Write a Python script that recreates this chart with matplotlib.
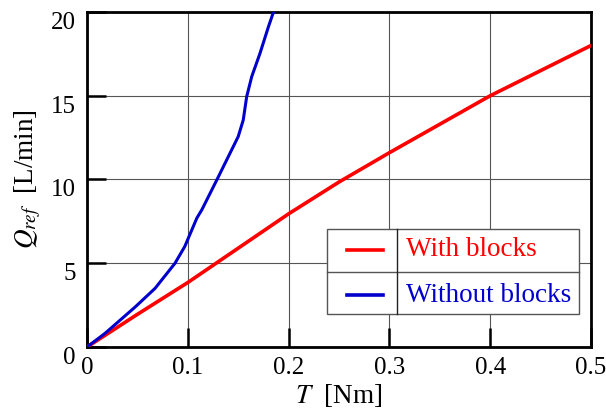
import matplotlib
matplotlib.use("Agg")
import matplotlib.pyplot as plt
from matplotlib.patches import Rectangle
from matplotlib.lines import Line2D

plt.rcParams['font.family'] = ['Liberation Serif', 'DejaVu Serif']
plt.rcParams['mathtext.fontset'] = 'stix'

# Data
t_with = [0.0, 0.05, 0.1, 0.15, 0.2, 0.25, 0.3, 0.35, 0.4, 0.45, 0.5]
q_with = [0.0, 1.95, 3.85, 5.9, 7.95, 9.85, 11.6, 13.3, 15.0, 16.5, 18.0]
t_without = [0.0, 0.018, 0.048, 0.0675, 0.0873, 0.097, 0.109, 0.114, 0.129,
             0.150, 0.155, 0.1584, 0.1634, 0.1716, 0.18, 0.185]
q_without = [0.0, 0.82, 2.4, 3.5, 5.0, 6.0, 7.7, 8.2, 10.0,
             12.56, 13.55, 14.94, 16.14, 17.53, 19.12, 20.0]
x_ticks = [0, 0.1, 0.2, 0.3, 0.4, 0.5]
x_labels = ['0', '0.1', '0.2', '0.3', '0.4', '0.5']
y_ticks = [0, 5, 10, 15, 20]
y_labels = ['0', '5', '10', '15', '20']
series_names = ['With blocks', 'Without blocks']
series_colors = ['#ff0000', '#0000cc']

fig = plt.figure(figsize=(6.06, 4.19), dpi=100)
ax = fig.add_axes([87/606, 1-347/419, (591-87)/606, (347-12)/419])

ax.plot(t_with, q_with, color=series_colors[0], lw=2.6, zorder=3)
ax.plot(t_without, q_without, color=series_colors[1], lw=2.2, zorder=3)

ax.set_xlim(0, 0.5)
ax.set_ylim(0, 20)
ax.set_xticks(x_ticks)
ax.set_xticklabels(x_labels)
ax.set_yticks(y_ticks)
ax.set_yticklabels(y_labels)
ax.tick_params(direction='in', length=14, width=1.8, labelsize=18, color='black')
ax.tick_params(axis='x', pad=7)
ax.tick_params(axis='y', pad=8)
for lab in ax.get_yticklabels():
    lab.set_verticalalignment('top')
ax.grid(True, color='#555555', lw=0.8, zorder=0)
ax.set_axisbelow(True)
for s in ax.spines.values():
    s.set_linewidth(2.0)

ax.set_xlabel('$T$  [Nm]', fontsize=19.5, labelpad=2)
ax.set_ylabel('$Q_{ref}$  [L/min]', fontsize=19.5, labelpad=6)

# Table-like legend
x0, x1, xd = 0.476, 0.976, 0.615
y0, y1, ym = 0.0985, 0.352, 0.224
tr = ax.transAxes
ax.add_patch(Rectangle((x0, y0), x1-x0, y1-y0, transform=tr, facecolor='white',
                       edgecolor='#555555', lw=1.0, zorder=4))
ax.add_line(Line2D([x0, x1], [ym, ym], transform=tr, color='#555555', lw=1.0, zorder=5))
ax.add_line(Line2D([xd, xd], [y0, y1], transform=tr, color='#222222', lw=1.0, zorder=5))
rows = [0.29, 0.155]
for name, c, yy in zip(series_names, series_colors, rows):
    ax.add_line(Line2D([0.516, 0.587], [yy, yy], transform=tr, color=c, lw=2.6, zorder=6))
    ax.text(0.633, yy, name, transform=tr, color=c, fontsize=19.5, va='center', ha='left', zorder=6)

fig.savefig('out.png', dpi=100)
